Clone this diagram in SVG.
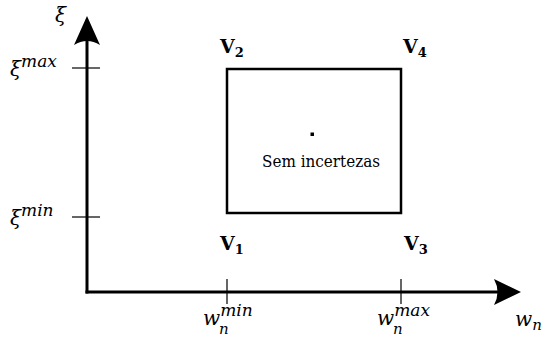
<svg xmlns="http://www.w3.org/2000/svg" width="548" height="337" viewBox="0 0 548 337">
<style>
.axis{stroke:#000;stroke-width:3;fill:none}
.tick{stroke:#000;stroke-width:1.2}
.box{stroke:#000;stroke-width:2.5;fill:none}
.m{font-family:"DejaVu Serif",serif;font-style:italic;fill:#000}
.v{font-family:"DejaVu Serif",serif;font-weight:bold;fill:#000}
.t{font-family:"DejaVu Serif",serif;fill:#000}
</style>
<g id="connectors">
<line class="axis" x1="87" y1="293.5" x2="87" y2="34"/>
<line class="axis" x1="85.5" y1="292" x2="505" y2="292"/>
<path d="M87,16 L100,45 Q87,37 74,45 Z" fill="#000"/>
<path d="M521,292 L494,279 Q501,292 494,305 Z" fill="#000"/>
<line class="tick" x1="72" y1="68" x2="100" y2="68"/>
<line class="tick" x1="72" y1="217" x2="100" y2="217"/>
<line class="tick" x1="227" y1="279" x2="227" y2="304"/>
<line class="tick" x1="401" y1="279" x2="401" y2="304"/>
</g>
<g id="region">
<rect class="box" x="227" y="69" width="174" height="144"/>
<rect x="310.5" y="132.5" width="3.5" height="3.5" fill="#000"/>
<text class="t" x="262" y="167" font-size="16.5" textLength="118" lengthAdjust="spacingAndGlyphs">Sem incertezas</text>
</g>
<g id="V2"><text class="v" x="220" y="53" font-size="19">V<tspan font-size="13" dy="4">2</tspan></text></g>
<g id="V4"><text class="v" x="403" y="53" font-size="19">V<tspan font-size="13" dy="4">4</tspan></text></g>
<g id="V1"><text class="v" x="220" y="250" font-size="19">V<tspan font-size="13" dy="4">1</tspan></text></g>
<g id="V3"><text class="v" x="404" y="250" font-size="19">V<tspan font-size="13" dy="4">3</tspan></text></g>
<g id="xi"><text class="m" x="55" y="22" font-size="20">ξ</text></g>
<g id="ximax"><text class="m" x="10" y="76" font-size="20">ξ<tspan font-size="17" dy="-9">max</tspan></text></g>
<g id="ximin"><text class="m" x="10" y="225" font-size="20">ξ<tspan font-size="17" dy="-9">min</tspan></text></g>
<g id="wmin"><text class="m" x="203" y="325" font-size="20">w<tspan font-size="17" dy="-9">min</tspan></text><text class="m" x="219" y="334" font-size="15">n</text></g>
<g id="wmax"><text class="m" x="377" y="325" font-size="20">w<tspan font-size="17" dy="-9">max</tspan></text><text class="m" x="393" y="334" font-size="15">n</text></g>
<g id="wn"><text class="m" x="515" y="326" font-size="20">w<tspan font-size="15" dy="4">n</tspan></text></g>
</svg>
